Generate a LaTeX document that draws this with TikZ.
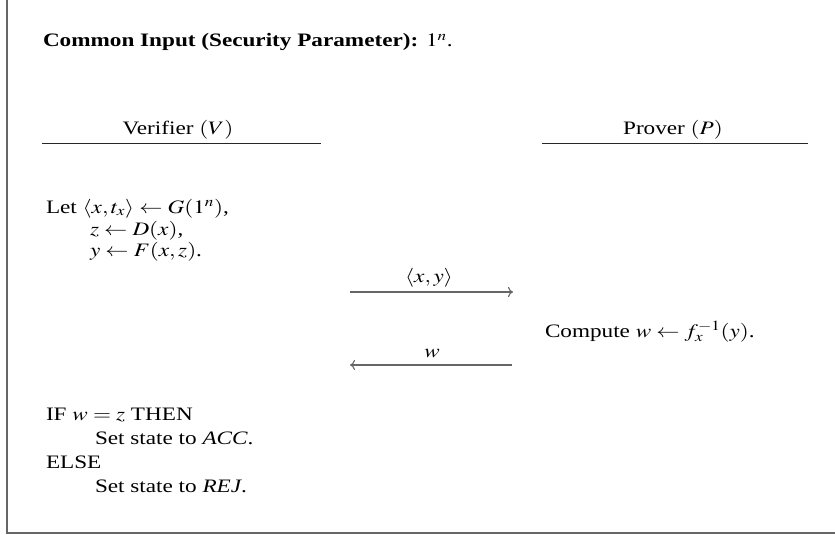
\documentclass[tikz,border=0pt]{standalone}
\usepackage{mathptmx}
\usepackage[no-math]{fontspec}
\setmainfont{Liberation Serif}
\usetikzlibrary{arrows.meta}
\def\sxf{1.22}
\newcommand{\wtx}[1]{\scalebox{\sxf}[1]{#1}}
\tikzset{
  txt/.style={inner sep=0pt, outer sep=0pt, font=\fontsize{19}{22}\selectfont},
  lt/.style={txt, anchor=base west},
  ct/.style={txt, anchor=base},
  frameline/.style={draw=black!60, line width=1.5pt},
  rule/.style={draw=black!85, line width=1pt},
  msg/.style={draw=black!60, line width=1.1pt, -{Computer Modern Rightarrow[length=5pt,width=10pt]}}
}
\begin{document}
\begin{tikzpicture}[x=1pt,y=-1pt]
\useasboundingbox (0,0) rectangle (835,535);
% frame (only left and bottom edges visible)
\coordinate (ftop) at (7,0);
\coordinate (fcorner) at (7,533);
\coordinate (fright) at (835,533);
\draw[frameline] (ftop) -- (fcorner) -- (fright);

\node[lt] (common) at (43,47) {\wtx{\textbf{Common Input (Security Parameter):} $1^n$.}};

\node[ct] (ver) at (178,134) {\wtx{Verifier $(V)$}};
\coordinate (vl) at (42,143);
\coordinate (vr) at (321,143);
\draw[rule] (vl) -- (vr);

\node[ct] (pro) at (673,134) {\wtx{Prover $(P)$}};
\coordinate (pl) at (542,143);
\coordinate (pr) at (808,143);
\draw[rule] (pl) -- (pr);

\node[lt] (let1) at (46,213) {\wtx{Let $\langle x,t_x\rangle \leftarrow G(1^n)$,}};
\node[lt] (let2) at (90,235) {\wtx{$z \leftarrow D(x)$,}};
\node[lt] (let3) at (90,256) {\wtx{$y \leftarrow F(x,z)$.}};

\coordinate (m1s) at (350,292);
\coordinate (m1e) at (513,292);
\draw[msg] (m1s) -- (m1e);
\node[ct] (m1lab) at (429,282) {\wtx{$\langle x,y\rangle$}};

\node[lt] (comp) at (545,337) {\wtx{Compute $w \leftarrow f_x^{-1}(y)$.}};

\coordinate (m2s) at (512,365);
\coordinate (m2e) at (350,365);
\draw[msg] (m2s) -- (m2e);
\node[ct] (m2lab) at (432,357) {\wtx{$w$}};

\node[lt] (if) at (46,420) {\wtx{IF $w=z$ THEN}};
\node[lt] (acc) at (95,444) {\wtx{Set state to \textit{ACC}.}};
\node[lt] (else) at (46,468) {\wtx{ELSE}};
\node[lt] (rej) at (95,492) {\wtx{Set state to \textit{REJ}.}};
\end{tikzpicture}
\end{document}
